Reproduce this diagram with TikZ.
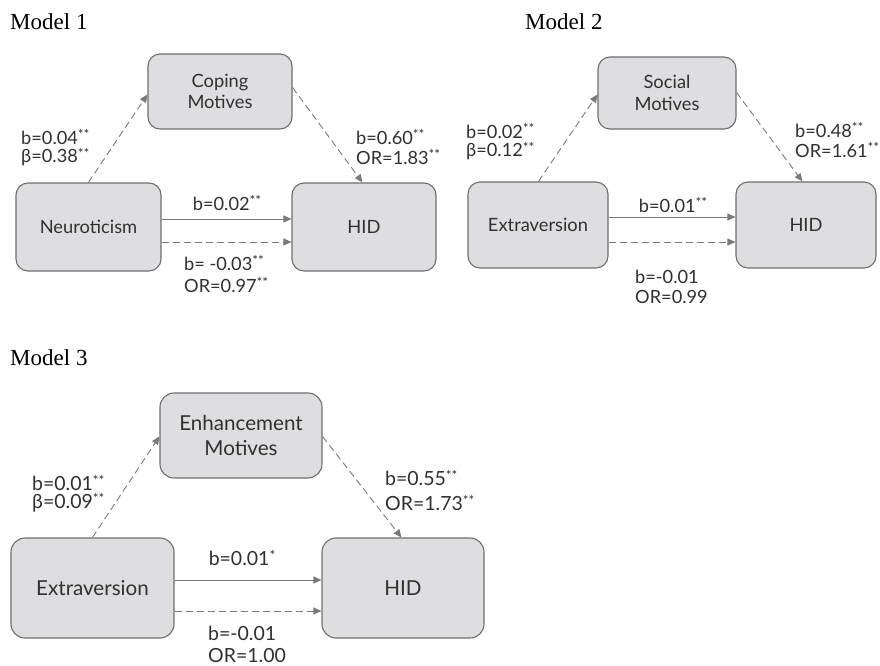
\documentclass[tikz,border=0pt]{standalone}
\usepackage{fontspec}
\setmainfont{Liberation Serif}
\newfontfamily\latofont{Lato}
\usetikzlibrary{arrows.meta}
\definecolor{boxfill}{HTML}{DEDEE0}
\definecolor{boxline}{HTML}{6E6E6E}
\definecolor{arrcol}{HTML}{7A7A7A}
\definecolor{txt}{HTML}{303030}
\tikzset{
  varbox/.style={draw=boxline, line width=1.1pt, fill=boxfill, rounded corners=12pt,
    inner sep=0pt, align=center, text=txt, font=\latofont\fontsize{18.3}{21.5}\selectfont},
  varboxL/.style={varbox, rounded corners=14pt, font=\latofont\fontsize{20.6}{24.5}\selectfont},
  conn/.style={draw=arrcol, line width=0.9pt, -{Triangle[length=8pt,width=7pt]}},
  dconn/.style={conn, dash pattern=on 7pt off 4pt},
  lab/.style={inner sep=0pt, text=txt, font=\latofont\fontsize{18.2}{20}\selectfont},
  labL/.style={inner sep=0pt, text=txt, font=\latofont\fontsize{19.5}{21}\selectfont},
  ttl/.style={inner sep=0pt, anchor=west, text=black, font=\fontsize{23}{26}\selectfont},
}
\newcommand{\sig}[1]{\raisebox{0.26em}{\fontsize{13.5}{13.5}\selectfont #1}}
\begin{document}
\begin{tikzpicture}[x=1pt,y=-1pt]
\useasboundingbox (0,0) rectangle (880,665);
% titles
\node[ttl] (t1) at (10,22) {Model 1};
\node[ttl] (t2) at (525,22) {Model 2};
\node[ttl] (t3) at (10,358) {Model 3};

% ---------- Model 1 ----------
\node[varbox, minimum width=145pt, minimum height=88pt] (neur) at (88.5,227) {Neuroticism};
\node[varbox, minimum width=144pt, minimum height=88pt] (hid1) at (364,227) {HID};
\node[varbox, minimum width=144pt, minimum height=75pt] (cop) at (220,91.5) {Coping\\Motives};
\draw[conn] ([yshift=8pt]neur.east) -- ([yshift=8pt]hid1.west);
\draw[dconn] ([yshift=-15pt]neur.east) -- ([yshift=-15pt]hid1.west);
\draw[dconn] ([xshift=73pt]neur.north west) -- ([yshift=-41pt]cop.north west);
\draw[dconn] ([yshift=-34pt]cop.north east) -- ([xshift=71pt]hid1.north west);
\node[lab, anchor=west] (l1a) at (21,137) {b=0.04\sig{**}};
\node[lab, anchor=west] (l1b) at (21,157) {β=0.38\sig{**}};
\node[lab, anchor=west] (l1c) at (356,137) {b=0.60\sig{**}};
\node[lab, anchor=west] (l1d) at (356,157) {OR=1.83\sig{**}};
\node[lab] (l1e) at (227,203) {b=0.02\sig{**}};
\node[lab, anchor=west] (l1f) at (184,263) {b= -0.03\sig{**}};
\node[lab, anchor=west] (l1g) at (184,285) {OR=0.97\sig{**}};

% ---------- Model 2 ----------
\node[varbox, minimum width=140pt, minimum height=86pt] (ext2) at (538,225) {Extraversion};
\node[varbox, minimum width=140pt, minimum height=86pt] (hid2) at (806,225) {HID};
\node[varbox, minimum width=138pt, minimum height=72pt] (soc) at (667,93) {Social\\Motives};
\draw[conn] ([yshift=8pt]ext2.east) -- ([yshift=8pt]hid2.west);
\draw[dconn] ([yshift=-17pt]ext2.east) -- ([yshift=-17pt]hid2.west);
\draw[dconn] ([xshift=71pt]ext2.north west) -- ([yshift=-38pt]soc.north west);
\draw[dconn] ([yshift=-36pt]soc.north east) -- ([xshift=67pt]hid2.north west);
\node[lab, anchor=west] (l2a) at (466,131) {b=0.02\sig{**}};
\node[lab, anchor=west] (l2b) at (466,151) {β=0.12\sig{**}};
\node[lab, anchor=west] (l2c) at (795,130) {b=0.48\sig{**}};
\node[lab, anchor=west] (l2d) at (795,150) {OR=1.61\sig{**}};
\node[lab] (l2e) at (673,205) {b=0.01\sig{**}};
\node[lab, anchor=west] (l2f) at (635,277) {b=-0.01};
\node[lab, anchor=west] (l2g) at (635,297) {OR=0.99};

% ---------- Model 3 ----------
\node[varboxL, minimum width=163pt, minimum height=100pt] (ext3) at (92.5,588) {Extraversion};
\node[varboxL, minimum width=162pt, minimum height=100pt] (hid3) at (403,588) {HID};
\node[varboxL, minimum width=162pt, minimum height=85pt] (enh) at (241,435.5) {Enhancement\\Motives};
\draw[conn] ([yshift=8pt]ext3.east) -- ([yshift=8pt]hid3.west);
\draw[dconn] ([yshift=-23pt]ext3.east) -- ([yshift=-23pt]hid3.west);
\draw[dconn] ([xshift=82pt]ext3.north west) -- ([yshift=-44pt]enh.north west);
\draw[dconn] ([yshift=-44pt]enh.north east) -- ([xshift=80pt]hid3.north west);
\node[labL, anchor=west] (l3a) at (32,483) {b=0.01\sig{**}};
\node[labL, anchor=west] (l3b) at (32,503) {β=0.09\sig{**}};
\node[labL, anchor=west] (l3c) at (385,478) {b=0.55\sig{**}};
\node[labL, anchor=west] (l3d) at (385,503) {OR=1.73\sig{**}};
\node[labL] (l3e) at (242,558) {b=0.01\sig{*}};
\node[labL, anchor=west] (l3f) at (208,633) {b=-0.01};
\node[labL, anchor=west] (l3g) at (208,655) {OR=1.00};
\end{tikzpicture}
\end{document}
